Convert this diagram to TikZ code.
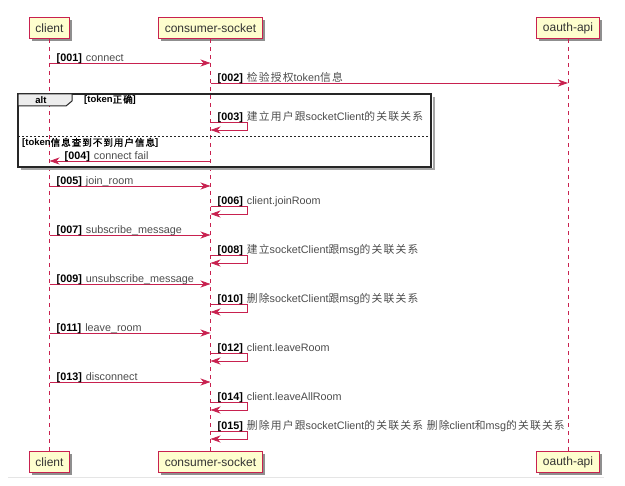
\documentclass[tikz,border=0pt]{standalone}
\usepackage{fontspec}
\setmainfont{Liberation Sans}
\newfontfamily\cjk[LetterSpace=11, AutoFakeBold=1.5]{Noto Sans CJK SC}
\newcommand{\zh}[1]{{\cjk #1}}
\newcommand{\seqno}[1]{\textcolor{black}{\textbf{[#1]}}\hspace{4pt}}
\usetikzlibrary{arrows.meta, shadows}
\definecolor{umlred}{HTML}{C8214F}
\definecolor{umlfill}{HTML}{FEFECE}

\begin{document}
\begin{tikzpicture}[
    x=1pt, y=-1pt,
    actor/.style={rectangle, draw=umlred, line width=1pt, fill=umlfill, minimum height=21pt, inner xsep=6pt,
      font=\fontsize{12}{14}\selectfont, text=black!80,
      drop shadow={shadow xshift=2.5pt, shadow yshift=-2.5pt, fill=black!55, opacity=0.8}},
    lifeline/.style={umlred, line width=0.8pt, dash pattern=on 4pt off 4pt},
    msg/.style={umlred, line width=0.8pt, -{Stealth[length=10pt, width=7pt, inset=3pt]}},
    lbl/.style={anchor=base west, inner sep=0pt, font=\fontsize{10.8}{13}\selectfont, text=black!70},
    guard/.style={anchor=base west, inner sep=0pt, font=\fontsize{9.5}{11}\selectfont\bfseries}
  ]
  \useasboundingbox (0,0) rectangle (625,486);

  \node[actor] (client) at (49.5,28.5) {client};
  \node[actor] (socket) at (210.5,28.5) {consumer-socket};
  \node[actor] (oauth) at (568,28.5) {oauth-api};
  \node[actor] (clientB) at (49.5,462) {client};
  \node[actor] (socketB) at (210.5,462) {consumer-socket};
  \node[actor] (oauthB) at (568,462) {oauth-api};

  \draw[lifeline] (client) -- (clientB);
  \draw[lifeline] (socket) -- (socketB);
  \draw[lifeline] (oauth) -- (oauthB);

  % alt frame
  \draw[black!35, line width=2pt] (433.5,97) -- (433.5,169.5) -- (21,169.5);
  \draw[black!85, line width=1.5pt] (18,94) rectangle (431,167);
  \draw[black!85, line width=1pt, fill=black!7] (18,94) -- (72,94) -- (72,101) -- (66,106) -- (18,106) -- cycle;
  \node[font=\fontsize{9.5}{11}\selectfont\bfseries] (altname) at (41,100.5) {alt};
  \draw[black!85, line width=0.6pt, dash pattern=on 2pt off 2pt] (18,136) -- (431,136);
  \node[guard] (guardok) at (84,103) {[token\zh{正确}]};
  \node[guard] (guardfail) at (22,146) {[token\zh{信息查到不到用户信息}]};

  \draw[msg] (socket |- 0,83) -- (oauth |- 0,83);
  \path (socket |- 0,83) ++(7,-1.5) node[lbl] (m002) {\seqno{002}\zh{检验授权}token\zh{信息}};
  \draw[msg] (socket |- 0,161) -- (client |- 0,161);
  \path (client |- 0,161) ++(15,-1.5) node[lbl] (m004) {\seqno{004}connect fail};

  \foreach \y/\idx/\txt in {63/001/connect, 186/005/join\_room, 235/007/subscribe\_message,
      284/009/unsubscribe\_message, 333/011/leave\_room, 382/013/disconnect} {
    \draw[msg] (client |- 0,\y) -- (socket |- 0,\y);
    \path (client |- 0,\y) ++(7,-1.5) node[lbl] {\seqno{\idx}\txt};
  }

  \foreach \y/\idx/\txt in {122/003/{\zh{建立用户跟}socketClient\zh{的关联关系}}, 206/006/client.joinRoom,
      255/008/{\zh{建立}socketClient\zh{跟}msg\zh{的关联关系}}, 304/010/{\zh{删除}socketClient\zh{跟}msg\zh{的关联关系}},
      353/012/client.leaveRoom, 402/014/client.leaveAllRoom,
      431/015/{\zh{删除用户跟}socketClient\zh{的关联关系 删除}client\zh{和}msg\zh{的关联关系}}} {
    \draw[msg] (socket |- 0,\y) -- ++(37,0) -- ++(0,8) -- (socket |- 0,\y+8);
    \path (socket |- 0,\y) ++(7,-1.5) node[lbl] {\seqno{\idx}\txt};
  }

  \draw[black!10, line width=1pt] (8,478) -- (604,478);
\end{tikzpicture}
\end{document}
